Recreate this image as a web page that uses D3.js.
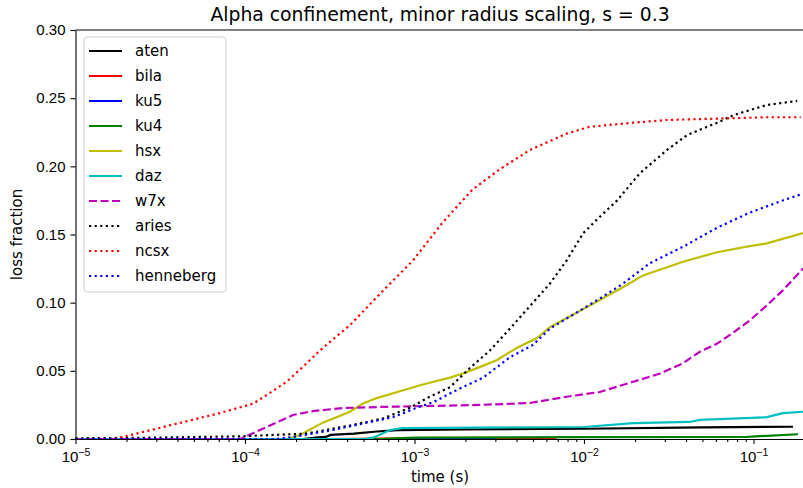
<!DOCTYPE html>
<html>
<head>
<meta charset="utf-8">
<script src="https://cdn.jsdelivr.net/npm/d3@7"></script>
<style>
  body { margin: 0; background: #fff; }
  svg { display: block; font-family: "DejaVu Sans", sans-serif; }
  .axis path, .axis line { stroke: #000; stroke-width: 1.1; }
  .axis text { fill: #000; }
</style>
</head>
<body>
<div id="chart"></div>
<script>
// series: [time (s), loss fraction] pairs
var aten = [[1e-5,0],[2.2e-4,0],[2.6e-4,0.001],[3.0e-4,0.0015],[3.2e-4,0.003],[4.4e-4,0.004],[6.0e-4,0.0055],[8e-4,0.0065],[2e-3,0.007],[1e-2,0.0075],[5e-2,0.0085],[0.171,0.009]];
var bila = [[1e-5,0],[3e-4,0],[1e-3,0.0005],[6.9e-3,0.0008]];
var ku5 = [[1e-5,0],[3e-3,0]];
var ku4 = [[1e-5,0],[6e-4,0],[1e-3,0.001],[1e-2,0.0014],[9.2e-2,0.0016],[0.183,0.0035]];
var hsx = [[1e-5,0],[1.8e-4,0],[2.11e-4,0.003],[2.88e-4,0.012],[4.16e-4,0.020],[4.97e-4,0.026],[6.0e-4,0.030],[8.2e-4,0.035],[1.12e-3,0.040],[1.62e-3,0.045],[1.93e-3,0.048],[2.34e-3,0.052],[3.07e-3,0.058],[4.03e-3,0.067],[5.28e-3,0.074],[6.3e-3,0.082],[1.24e-2,0.102],[1.79e-2,0.113],[2.23e-2,0.120],[3.84e-2,0.130],[6.1e-2,0.137],[9.5e-2,0.1415],[0.120,0.1435],[0.196,0.151]];
var daz = [[1e-5,0],[5.0e-4,0],[5.7e-4,0.001],[7.2e-4,0.0066],[8.5e-4,0.008],[1e-2,0.0088],[1.95e-2,0.0117],[4.2e-2,0.0125],[4.83e-2,0.014],[0.120,0.016],[0.149,0.019],[0.196,0.020]];
var w7x = [[1e-5,0],[9.35e-5,0],[1.35e-4,0.009],[1.92e-4,0.0176],[2.52e-4,0.0205],[3.79e-4,0.0227],[6.25e-4,0.0235],[2.43e-3,0.025],[4.8e-3,0.0264],[7.9e-3,0.031],[1.24e-2,0.0345],[1.95e-2,0.042],[2.81e-2,0.048],[3.84e-2,0.0556],[4.83e-2,0.064],[6.1e-2,0.070],[7.6e-2,0.078],[9.5e-2,0.087],[0.120,0.098],[0.149,0.109],[0.196,0.125]];
var aries = [[1e-5,0.0005],[3e-5,0.001],[9.7e-5,0.002],[2.3e-4,0.004],[4.2e-4,0.010],[6.5e-4,0.015],[9.4e-4,0.023],[1.23e-3,0.031],[1.62e-3,0.038],[2.12e-3,0.052],[2.79e-3,0.065],[3.66e-3,0.081],[5.0e-3,0.100],[6.3e-3,0.114],[7.9e-3,0.131],[9.9e-3,0.151],[1.24e-2,0.163],[1.57e-2,0.175],[2.14e-2,0.195],[3.09e-2,0.212],[4.06e-2,0.223],[6.1e-2,0.232],[7.6e-2,0.2375],[0.12,0.245],[0.181,0.248]];
var ncsx = [[1e-5,0],[1.7e-5,0],[3.6e-5,0.010],[7.1e-5,0.019],[1.12e-4,0.026],[1.41e-4,0.034],[1.76e-4,0.042],[2.2e-4,0.053],[2.77e-4,0.065],[4.2e-4,0.084],[6.2e-4,0.106],[9.8e-4,0.131],[1.47e-3,0.159],[2.2e-3,0.183],[3.2e-3,0.198],[4.8e-3,0.212],[7.9e-3,0.224],[1.08e-2,0.229],[1.95e-2,0.232],[3.1e-2,0.234],[0.12,0.236],[0.19,0.236]];
var henneberg = [[1e-5,0],[1.5e-4,0],[1.92e-4,0.0015],[3.3e-4,0.0066],[5.25e-4,0.012],[7.46e-4,0.016],[1.035e-3,0.023],[1.29e-3,0.027],[1.78e-3,0.036],[2.54e-3,0.045],[3.66e-3,0.060],[5.0e-3,0.069],[6.3e-3,0.081],[1.24e-2,0.103],[1.70e-2,0.114],[2.45e-2,0.129],[3.84e-2,0.141],[6.1e-2,0.155],[9.5e-2,0.166],[0.149,0.175],[0.196,0.180]];

var seriesNames = ["aten","bila","ku5","ku4","hsx","daz","w7x","aries","ncsx","henneberg"];
var seriesData = [aten, bila, ku5, ku4, hsx, daz, w7x, aries, ncsx, henneberg];
var seriesColors = ["#000000","#ff0000","#0000ff","#008000","#bfbf00","#00bfbf","#bf00bf","#000000","#ff0000","#0000ff"];
var seriesStyles = ["solid","solid","solid","solid","solid","solid","dashed","dotted","dotted","dotted"];

var yTicks = [0, 0.05, 0.10, 0.15, 0.20, 0.25, 0.30];
var xMajor = [1e-5, 1e-4, 1e-3, 1e-2, 1e-1];
var xExp = ["\u22125", "\u22124", "\u22123", "\u22122", "\u22121"];

var W = 803, H = 488;
var margin = {top: 30, right: -1.5, bottom: 49, left: 75.5};

var svg = d3.select("#chart").append("svg")
    .attr("width", W)
    .attr("height", H);

var x = d3.scaleLog()
    .domain([1e-5, 0.2])
    .range([margin.left, W - margin.right]);

var y = d3.scaleLinear()
    .domain([0, 0.3])
    .range([H - margin.bottom, margin.top]);

var dashFor = {solid: null, dashed: "8,3.5", dotted: "2.2,3.4"};

var line = d3.line()
    .x(function(d) { return x(d[0]); })
    .y(function(d) { return y(d[1]); });

// lines
svg.append("g").selectAll("path")
    .data(seriesData)
    .enter()
    .append("path")
    .attr("d", line)
    .attr("fill", "none")
    .attr("stroke", function(d, i) { return seriesColors[i]; })
    .attr("stroke-width", 2.2)
    .attr("stroke-dasharray", function(d, i) { return dashFor[seriesStyles[i]]; });

// minor x ticks
var minors = [];
xMajor.forEach(function(m) {
    for (var k = 2; k <= 9; k++) { if (m * k <= 0.2) minors.push(m * k); }
});
svg.append("g")
    .attr("class", "axis")
    .attr("transform", "translate(0," + y(0) + ")")
    .call(d3.axisBottom(x).tickValues(minors).tickSize(3).tickSizeOuter(0).tickFormat(""))
    .select(".domain").remove();

// major x axis
var xAxis = svg.append("g")
    .attr("class", "axis")
    .attr("transform", "translate(0," + y(0) + ")")
    .call(d3.axisBottom(x).tickValues(xMajor).tickSize(5).tickSizeOuter(0).tickFormat(""));

xAxis.selectAll(".tick").append("text")
    .attr("y", 23)
    .attr("text-anchor", "middle")
    .style("font-size", "15px")
    .each(function(d, i) {
        var t = d3.select(this);
        t.append("tspan").text("10");
        t.append("tspan").attr("dy", -6).style("font-size", "10.5px").text(xExp[i]);
    });

// y axis
svg.append("g")
    .attr("class", "axis")
    .attr("transform", "translate(" + margin.left + ",0)")
    .call(d3.axisLeft(y).tickValues(yTicks).tickSize(5).tickSizeOuter(0).tickPadding(5)
        .tickFormat(d3.format(".2f")))
    .selectAll("text")
    .style("font-size", "15px");

// top spine
svg.append("line")
    .attr("x1", margin.left).attr("x2", W)
    .attr("y1", y(0.3)).attr("y2", y(0.3))
    .attr("stroke", "#000").attr("stroke-width", 1.1);

// title and labels
svg.append("text")
    .attr("x", (margin.left + W - margin.right) / 2)
    .attr("y", 21)
    .attr("text-anchor", "middle")
    .style("font-size", "18.8px")
    .text("Alpha confinement, minor radius scaling, s = 0.3");

svg.append("text")
    .attr("x", (margin.left + W - margin.right) / 2)
    .attr("y", 482)
    .attr("text-anchor", "middle")
    .style("font-size", "15px")
    .text("time (s)");

svg.append("text")
    .attr("transform", "translate(22," + ((y(0) + y(0.3)) / 2) + ") rotate(-90)")
    .attr("text-anchor", "middle")
    .style("font-size", "15px")
    .text("loss fraction");

// legend
var legend = svg.append("g").attr("transform", "translate(84,37)");
legend.append("rect")
    .attr("width", 142).attr("height", 255)
    .attr("rx", 3)
    .attr("fill", "#fff").attr("fill-opacity", 0.8)
    .attr("stroke", "#d0d0d0");

var items = legend.selectAll(".item")
    .data(seriesNames)
    .enter()
    .append("g")
    .attr("class", "item")
    .attr("transform", function(d, i) { return "translate(0," + (14 + i * 25) + ")"; });

items.append("line")
    .attr("x1", 5).attr("x2", 38)
    .attr("stroke", function(d, i) { return seriesColors[i]; })
    .attr("stroke-width", 2.2)
    .attr("stroke-dasharray", function(d, i) { return dashFor[seriesStyles[i]]; });

items.append("text")
    .attr("x", 51).attr("y", 5)
    .style("font-size", "15px")
    .text(function(d) { return d; });
</script>
</body>
</html>
